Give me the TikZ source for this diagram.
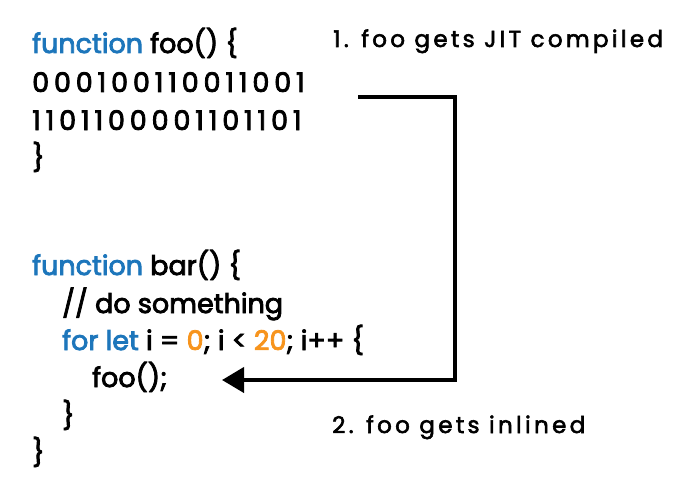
\documentclass[tikz,border=0pt]{standalone}
\usepackage{fontspec}
\setmainfont{Poppins}[RawFeature={embolden=3}]
\newfontfamily\binfont{Poppins}[LetterSpace=18,RawFeature={embolden=3}]
\newfontfamily\notefont{Poppins}[LetterSpace=14.5,RawFeature={embolden=2.5}]
\usetikzlibrary{arrows.meta}
\definecolor{kwblue}{HTML}{1D76BB}
\definecolor{numorange}{HTML}{F7941D}
\newcommand{\kw}[1]{\textcolor{kwblue}{#1}}
\newcommand{\num}[1]{\textcolor{numorange}{#1}}

\begin{document}
\begin{tikzpicture}
[x=1pt,y=-1pt,
  codeLine/.style={anchor=base west,inner sep=0pt,font=\fontsize{27}{32}\selectfont},%
  binLine/.style={codeLine,font=\binfont\fontsize{27}{32}\selectfont},%
  noteText/.style={anchor=base west,inner sep=0pt,font=\notefont\fontsize{23}{28}\selectfont},%
  flowArrow/.style={line width=4pt,-{Triangle[length=22pt,width=25pt]}}]
\useasboundingbox (0,0) rectangle (700,500);
%% foo
\node (fooHead) at (32,53) [codeLine] {\kw{function} foo() \{};
\node (fooBinA) at (32,92) [binLine] {000100110011001};
\node (fooBinB) at (32,130) [binLine] {1101100001101101};
\node (fooEnd) at (32,167) [codeLine] {\}};
%% bar
\node (barHead) at (32,275) [codeLine] {\kw{function} bar() \{};
\node (barNote) at (62,313) [codeLine] {// do something};
\node (barLoop) at (62,350) [codeLine] {\kw{for let} i = \num{0}; i < \num{20}; i++ \{};
\node (barCall) at (92,387) [codeLine] {foo();};
\node (barLoopEnd) at (62,425) [codeLine] {\}};
\node (barEnd) at (32,462) [codeLine] {\}};
%% notes
\node (jitNote) at (333,47) [noteText] {1. foo gets JIT compiled};
\node (inlineNote) at (332,433) [noteText] {2. foo gets inlined};
%% arrow
\coordinate (jitStart) at (358,97);
\coordinate (jitTurn) at (455,97);
\coordinate (inlineEnd) at (222,380);
\draw[flowArrow] (jitStart) -- (jitTurn) |- (inlineEnd);
\end{tikzpicture}
\end{document}
